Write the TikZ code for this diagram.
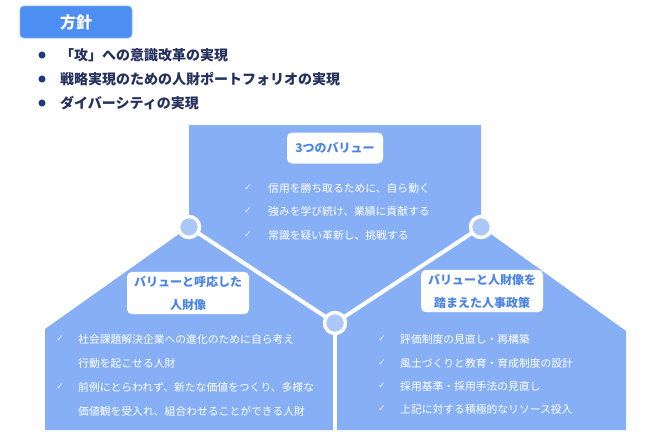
\documentclass[tikz,border=0pt]{standalone}
\usepackage{fontspec}
\newfontfamily\jp{Noto Sans CJK JP}
\newfontfamily\sym{DejaVu Sans}
\definecolor{mainfill}{HTML}{86AFF5}
\definecolor{dotfill}{HTML}{ABC8F8}
\definecolor{hdrblue}{HTML}{4D8EF2}
\definecolor{lblblue}{HTML}{4A84E6}
\definecolor{navy}{HTML}{24305E}
\definecolor{bulnavy}{HTML}{1F3A80}
\pgfdeclarelayer{bglayer}
\pgfdeclarelayer{midlayer}
\pgfsetlayers{bglayer,midlayer,main}
\begin{document}
\begin{tikzpicture}[x=1pt,y=-1pt,
  hdr/.style={fill=hdrblue,draw=hdrblue!70!white,line width=0.8pt,rounded corners=4pt,minimum width=112pt,minimum height=32pt,inner sep=0pt,text=white,font=\jp\bfseries\fontsize{16}{18}\selectfont},
  bul/.style={circle,fill=bulnavy,minimum size=7pt,inner sep=0pt},
  bultext/.style={anchor=west,inner sep=0pt,text=navy,font=\jp\bfseries\fontsize{14}{16}\selectfont},
  lbl/.style={fill=white,rounded corners=5pt,inner xsep=7pt,inner ysep=4pt,text=lblblue,align=center,font=\jp\bfseries\fontsize{12}{23}\selectfont},
  chk/.style={anchor=center,inner sep=0pt,text=white!85!mainfill,font=\sym\fontsize{9}{10}\selectfont},
  itm/.style={anchor=west,inner sep=0pt,text=white,font=\jp\fontsize{10.8}{12}\selectfont},
  dot/.style={circle,fill=dotfill,draw=white,line width=3.5pt,minimum size=21pt,inner sep=0pt},
  sep/.style={draw=white,line width=4pt}
]
\useasboundingbox (0,0) rectangle (645,445);
\begin{pgfonlayer}{bglayer}
\fill[white] (0,0) rectangle (645,445);
\fill[mainfill] (45,329) -- (189,227) -- (189,125) -- (481,125) -- (481,227)
  -- (626,331) -- (626,430) -- (45,430) -- cycle;
\end{pgfonlayer}

% header
\node[hdr] (hdr) at (76,22) {方針};
\node[bul] (b1) at (42,55) {};
\node[bul] (b2) at (42,79) {};
\node[bul] (b3) at (42,103) {};
\node[bultext] (t1) at (60,55) {「攻」への意識改革の実現};
\node[bultext] (t2) at (60,79) {戦略実現のための人財ポートフォリオの実現};
\node[bultext] (t3) at (60,103) {ダイバーシティの実現};

% circles and separators
\coordinate (bot) at (335,432);
\node[dot] (cl) at (189,227) {};
\node[dot] (cr) at (481,227) {};
\node[dot] (cb) at (335,323) {};
\begin{pgfonlayer}{midlayer}
\path[sep] (cl.center) -- (cb.center);
\path[sep] (cr.center) -- (cb.center);
\path[sep] (cb.center) -- (bot);
\end{pgfonlayer}

% labels
\node[lbl,minimum width=96pt,minimum height=31pt] (l1) at (335,148) {3つのバリュー};
\node[lbl] (l2) at (188,293) {バリューと呼応した\\人財像};
\node[lbl] (l3) at (482,291) {バリューと人財像を\\踏まえた人事政策};

% top items
\node[chk] (c11) at (248,188) {✓};
\node[itm] (i11) at (268,188) {信用を勝ち取るために、自ら動く};
\node[chk] (c12) at (248,211) {✓};
\node[itm] (i12) at (268,211) {強みを学び続け、業績に貢献する};
\node[chk] (c13) at (248,235) {✓};
\node[itm] (i13) at (268,235) {常識を疑い革新し、挑戦する};

% left items
\node[chk] (c21) at (60,339) {✓};
\node[itm] (i21) at (78,339) {社会課題解決企業への進化のために自ら考え};
\node[itm] (i21b) at (78,363) {行動を起こせる人財};
\node[chk] (c22) at (60,387) {✓};
\node[itm] (i22) at (78,387) {前例にとらわれず、新たな価値をつくり、多様な};
\node[itm] (i22b) at (78,411) {価値観を受入れ、組合わせることができる人財};

% right items
\node[chk] (c31) at (382,339) {✓};
\node[itm] (i31) at (400,339) {評価制度の見直し・再構築};
\node[chk] (c32) at (382,363) {✓};
\node[itm] (i32) at (400,363) {風土づくりと教育・育成制度の設計};
\node[chk] (c33) at (382,386) {✓};
\node[itm] (i33) at (400,386) {採用基準・採用手法の見直し};
\node[chk] (c34) at (382,409) {✓};
\node[itm] (i34) at (400,409) {上記に対する積極的なリソース投入};
\end{tikzpicture}
\end{document}
